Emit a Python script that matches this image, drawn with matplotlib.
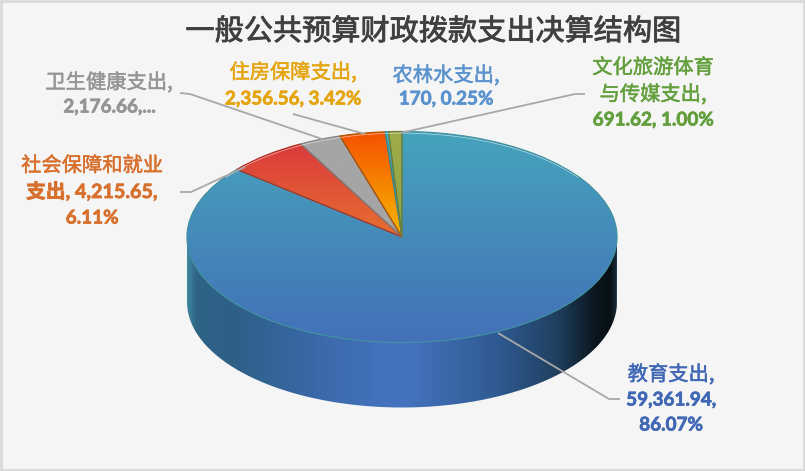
import numpy as np
import matplotlib
matplotlib.use("Agg")
import matplotlib.pyplot as plt
import matplotlib.patheffects as pe
from matplotlib.colors import LinearSegmentedColormap as LSC
from matplotlib.patches import PathPatch, Rectangle
from matplotlib.path import Path

categories = ["教育支出", "社会保障和就业支出", "卫生健康支出", "住房保障支出", "农林水支出", "文化旅游体育与传媒支出"]
values = [59361.94, 4215.65, 2176.66, 2356.56, 170, 691.62]
label_lines = [["教育支出,", "59,361.94,", "86.07%"], ["社会保障和就业", "支出, 4,215.65,", "6.11%"],
               ["卫生健康支出,", "2,176.66,..."], ["住房保障支出,", "2,356.56, 3.42%"],
               ["农林水支出,", "170, 0.25%"], ["文化旅游体育", "与传媒支出,", "691.62, 1.00%"]]
label_x = [671, 92, 109, 293, 446, 653]
label_y = [[375, 400, 425], [166, 192, 218], [83, 107], [73, 99], [76, 99], [68, 95, 120]]
label_colors = ["#4068B5", "#D8702D", "#959595", "#E5A50F", "#5B93CE", "#63A03D"]
top_grads = [("#46A4BC", "#4370B8"), ("#D9323F", "#E8702F"), ("#A5A5A5", "#A5A5A5"),
             ("#F55000", "#F5B800"), ("#45B0C4", "#3A8FA8"), ("#A0AC4C", "#8FA040")]
edge_colors = ["#3F8FA0", "#B03020", "#808080", "#B05000", "#2F8FA0", "#6F7F30"]
leaders = [[(498, 333), (609, 399), (620, 399)], [(245, 167), (191, 192), (180, 192)],
           [(325, 140), (190, 94), (180, 93)], [(365, 134), (293, 114)],
           [(400, 133), (575, 94), (585, 94)]]

W, H = 805, 471
CX, CY, RX, RY, DEPTH = 402, 237, 215, 105.5, 65
fig = plt.figure(figsize=(W / 100, H / 100), dpi=100, facecolor="#F5F5F5")

# pie axes: one data unit is the pie radius, squeezed vertically to give the tilted look
ax = fig.add_axes([0, 0, 1, 1])
xlim = ((0 - CX) / RX, (W - CX) / RX)
ylim = ((CY - H) / RY, CY / RY)
wedges, _ = ax.pie(values, startangle=90, counterclock=False, radius=1, center=(0, 0))
ax.set_aspect("auto")

def grad(cols, n=256):
    return LSC.from_list("g", cols)(np.linspace(0, 1, n))

# side wall
t = np.linspace(np.pi, 2 * np.pi, 300)
dp = DEPTH / RY
top = np.c_[np.cos(t), np.sin(t)]
bot = np.c_[np.cos(t[::-1]), np.sin(t[::-1]) - dp]
side = Path(np.r_[top, bot, top[:1]], closed=False)
stops = [(0, "#3F85A0"), (0.02, "#2F6485"), (0.10, "#2E5F86"), (0.30, "#3A68A8"), (0.45, "#4472BC"),
         (0.52, "#4472BC"), (0.72, "#2F5A92"), (0.86, "#20405F"), (0.95, "#0A161E"), (0.985, "#071015"), (1, "#1A3040")]
cm_side = LSC.from_list("side", stops)
im = ax.imshow(cm_side(np.linspace(0, 1, 512))[None, :, :], extent=(-1, 1, -1 - dp, 0.2),
               aspect="auto", zorder=1)
im.set_clip_path(PathPatch(side, transform=ax.transData))

# top face gradients, clipped by the pie wedges
for i, (w, g, e) in enumerate(zip(wedges, top_grads, edge_colors)):
    low = -1 if i == 0 else 0
    img = ax.imshow(grad(g)[:, None, :], extent=(-1, 1, low, 1), origin="upper", aspect="auto", zorder=2)
    img.set_clip_path(w)
    w.set_facecolor("none")
    w.set_edgecolor(e)
    w.set_linewidth(0.9)
    w.set_zorder(3)
rim = np.linspace(np.radians(35), np.radians(145), 200)
ax.plot(0.998 * np.cos(rim), 0.985 * np.sin(rim), color="#FFFFFF", lw=0.5, alpha=0.6, zorder=4)
ax.set_xlim(xlim)
ax.set_ylim(ylim)
ax.axis("off")

# overlay in pixel coordinates
ov = fig.add_axes([0, 0, 1, 1], facecolor="none")
ov.set_xlim(0, W)
ov.set_ylim(H, 0)
ov.axis("off")
ov.add_patch(Rectangle((0.5, 0.5), W - 1.5, H - 2, fill=False, ec="#D9D9D9", lw=2))
for pts in leaders:
    xs, ys = zip(*pts)
    ov.plot(xs, ys, color="#A8A8A8", lw=1.3, solid_capstyle="butt", zorder=5)

FAM = ["Lato", "Noto Sans CJK SC"]
CJK = ["Noto Sans CJK SC", "Lato"]
for lines, x, ys, c in zip(label_lines, label_x, label_y, label_colors):
    for s, y in zip(lines, ys):
        n_cjk = sum(ord(ch) > 0x2E80 for ch in s)
        if n_cjk >= 4:
            ov.text(x, y, s, color=c, ha="center", va="center", fontsize=14.6, family=CJK, zorder=6,
                    path_effects=[pe.withStroke(linewidth=0.35, foreground=c)])
        else:
            ov.text(x, y, s, color=c, ha="center", va="center", fontsize=14.2 if n_cjk else 13.6,
                    family=FAM, fontweight="bold", zorder=6,
                    path_effects=[pe.withStroke(linewidth=0.5, foreground=c)])
ov.text(433, 32, "一般公共预算财政拨款支出决算结构图", color="#404040", ha="center", va="center",
        fontsize=21, family="Noto Sans CJK SC", zorder=6,
        path_effects=[pe.withStroke(linewidth=0.6, foreground="#404040")])
fig.savefig("out.png", dpi=100, facecolor=fig.get_facecolor())
